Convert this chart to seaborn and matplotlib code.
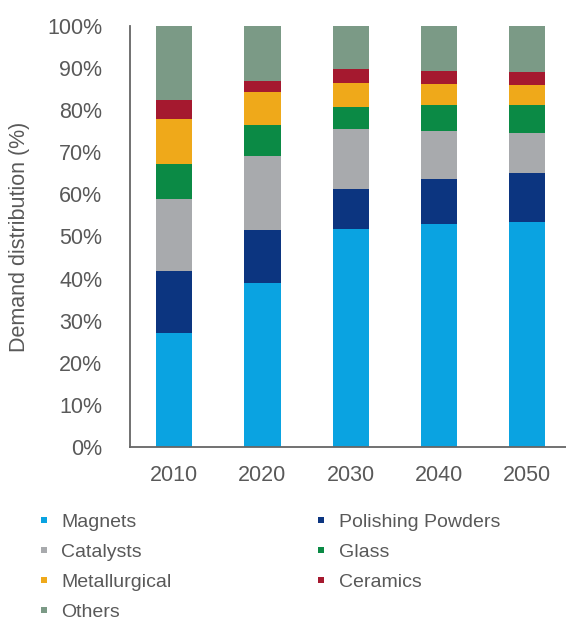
import matplotlib
matplotlib.use("Agg")
import matplotlib.pyplot as plt
from matplotlib.lines import Line2D
from matplotlib.ticker import PercentFormatter
import numpy as np
import pandas as pd
import seaborn as sns

# Demand share (%) of each application by year
years = ["2010", "2020", "2030", "2040", "2050"]
magnets = [27.0, 38.9, 51.9, 52.9, 53.4]
polishing_powders = [14.8, 12.6, 9.4, 10.7, 11.7]
catalysts = [17.0, 17.6, 14.2, 11.5, 9.4]
glass = [8.4, 7.3, 5.3, 6.1, 6.7]
metallurgical = [10.7, 7.9, 5.7, 5.1, 4.7]
ceramics = [4.5, 2.6, 3.2, 3.1, 3.2]
others = [17.6, 13.1, 10.3, 10.7, 10.9]

categories = ["Magnets", "Polishing Powders", "Catalysts", "Glass",
              "Metallurgical", "Ceramics", "Others"]
series = [magnets, polishing_powders, catalysts, glass,
          metallurgical, ceramics, others]
colors = ["#0aa3e1", "#0c3580", "#a8aaad", "#0b8a45",
          "#efa91a", "#a5192f", "#7b9a86"]

sns.set_theme(style="white")
plt.rcParams["font.family"] = ["Liberation Sans", "DejaVu Sans"]
text_color = "#595959"

fig = plt.figure(figsize=(5.66, 6.22), dpi=100)
ax = fig.add_axes([130 / 566, 1 - 447 / 622, 441.5 / 566, 421 / 622])

# Stacked bars: draw cumulative totals from the top segment down
df = pd.DataFrame(dict(zip(categories, series)), index=years)
cum = df.cumsum(axis=1)
for cat, col in reversed(list(zip(categories, colors))):
    sns.barplot(x=cum.index, y=cum[cat].values, color=col, width=0.41,
                saturation=1, ax=ax, linewidth=0, zorder=2)

ax.set_ylim(0, 100)
ax.set_xlim(-0.5, 4.5)
ax.yaxis.set_major_locator(plt.MultipleLocator(10))
ax.yaxis.set_major_formatter(PercentFormatter(decimals=0))
ax.set_ylabel("Demand distribution (%)", fontsize=15.5, color=text_color,
              labelpad=12)
ax.set_xlabel("")
ax.tick_params(axis="both", length=0, labelsize=15.5, colors=text_color)
ax.tick_params(axis="y", pad=20)
ax.tick_params(axis="x", pad=13)
for side in ["top", "right"]:
    ax.spines[side].set_visible(False)
for side in ["left", "bottom"]:
    ax.spines[side].set_color("#666666")
    ax.spines[side].set_linewidth(1.3)

# Legend in two columns (column-major order)
order = [0, 2, 4, 6, 1, 3, 5]
handles = [Line2D([], [], marker="s", linestyle="", markersize=5,
                  markerfacecolor=colors[i], markeredgewidth=0)
           for i in order]
labels = [categories[i] for i in order]
leg = fig.legend(handles, labels, ncol=2, loc="upper left",
                 bbox_to_anchor=(38 / 566, 1 - 513 / 622), frameon=False,
                 fontsize=14, handlelength=0.6, handletextpad=0.6,
                 columnspacing=7.4, labelspacing=0.64, borderaxespad=0,
                 borderpad=0)
for t in leg.get_texts():
    t.set_color(text_color)

fig.savefig("out.png", dpi=100)
